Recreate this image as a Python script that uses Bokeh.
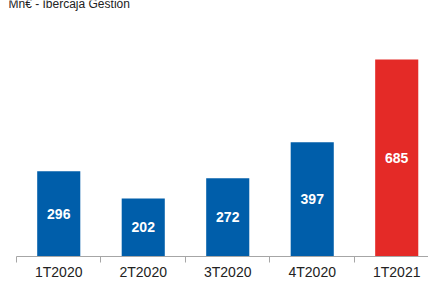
from bokeh.plotting import figure
from bokeh.models import Range1d, FixedTicker, Label
from bokeh.core.properties import value
from bokeh.embed import file_html
from bokeh.resources import INLINE

categories = ["1T2020", "2T2020", "3T2020", "4T2020", "1T2021"]
values = [296, 202, 272, 397, 685]
colors = ["#005EAA", "#005EAA", "#005EAA", "#005EAA", "#E42A27"]
title_text = "Mn€ - Ibercaja Gestión"

centers = [i + 0.5 for i in range(len(categories))]
boundaries = [float(i) for i in range(len(categories) + 1)]
mids = [v / 2 for v in values]
labels = [str(v) for v in values]

PX_PER_CAT = 84.5
X_START = -8 / PX_PER_CAT
X_END = 4.876
Y_END = 890
p = figure(frame_width=420, frame_height=256, output_backend="svg", toolbar_location=None,
           x_range=Range1d(X_START, X_END), y_range=Range1d(0, Y_END),
           min_border_left=8, min_border_right=0, min_border_top=0,
           min_border_bottom=0)
p.outline_line_color = None
p.grid.visible = False
p.yaxis.visible = False
p.background_fill_color = "white"
p.border_fill_color = "white"

p.vbar(x=centers, top=values, width=0.51, color=colors, line_color=None)
p.text(x=centers, y=mids, text=labels, text_color="white", text_font_size="14px",
       text_font_style="bold", text_align="center", text_baseline="middle",
       text_font=value("Liberation Sans"))

ax = p.xaxis[0]
ax.ticker = FixedTicker(ticks=centers, minor_ticks=boundaries)
ax.bounds = (0, X_END)
ax.major_label_overrides = {c: cat for c, cat in zip(centers, categories)}
ax.major_tick_out = 0
ax.major_tick_in = 0
ax.minor_tick_out = 6
ax.minor_tick_in = 0
ax.minor_tick_line_color = "#A6A6A6"
ax.axis_line_color = "#A6A6A6"
ax.major_label_text_font = "Liberation Sans"
ax.major_label_text_font_size = "14px"
ax.major_label_text_color = "#222222"
ax.major_label_standoff = 1

title = Label(x=0, y=Y_END - 3.5 / (256 / Y_END), x_units="data", y_units="data",
              text=title_text, text_font="Liberation Sans", text_font_size="12px",
              text_color="#222222", text_baseline="alphabetic")
title.x = X_START
p.add_layout(title)

open("out.html", "w").write(file_html(p, INLINE))
